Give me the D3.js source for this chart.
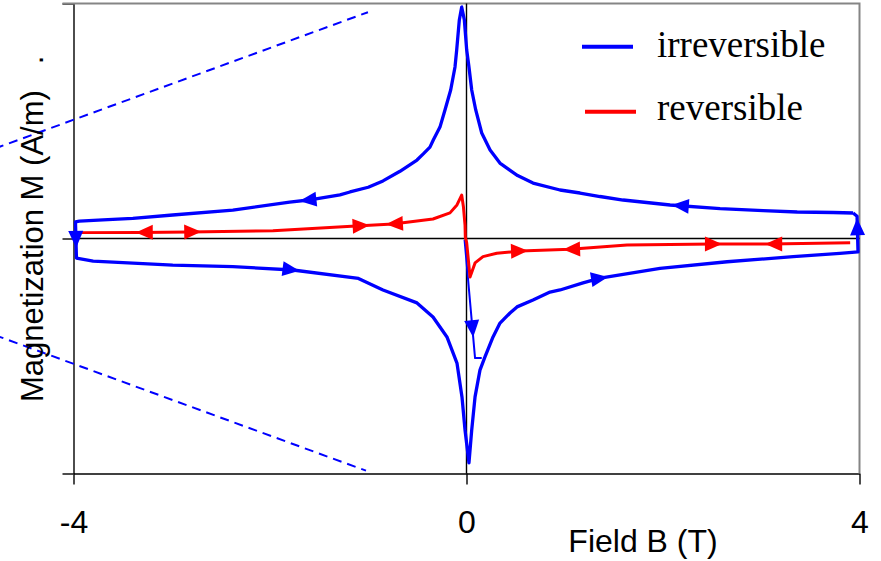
<!DOCTYPE html>
<html>
<head>
<meta charset="utf-8">
<script src="https://cdn.jsdelivr.net/npm/d3@7"></script>
<style>
  body { margin: 0; background: #fff; }
  svg { display: block; }
</style>
</head>
<body>
<svg id="chart" width="881" height="561"></svg>
<script>
// ---- data: field B (T) vs magnetization M (relative units, ±1 = full scale) ----
const fieldTicks = [-4, 0, 4];
const magTicks = [-1, 0, 1];

// irreversible loop, upper branch: swept from +4 T down to -4 T
const loopUpper = [
  [3.935, 0.1085], [3.732, 0.1106], [3.366, 0.1128], [3.019, 0.1183], [2.581, 0.1268],
  [2.072, 0.1426], [1.594, 0.1638], [1.359, 0.1787], [1.155, 0.1936], [0.952, 0.2064],
  [0.677, 0.236], [0.52, 0.268], [0.44, 0.291], [0.34, 0.321], [0.24, 0.377], [0.155, 0.449],
  [0.094, 0.547], [0.053, 0.632], [0.025, 0.730], [0.002, 0.802], [-0.022, 0.930],
  [-0.049, 0.985], [-0.073, 0.930], [-0.10, 0.802], [-0.117, 0.730], [-0.161, 0.632],
  [-0.219, 0.547], [-0.27, 0.474], [-0.338, 0.419], [-0.372, 0.389], [-0.44, 0.36],
  [-0.504, 0.334], [-0.677, 0.286], [-0.85, 0.245], [-1.0, 0.218], [-1.186, 0.198],
  [-1.288, 0.186], [-1.563, 0.166], [-1.80, 0.155], [-2.378, 0.121], [-2.99, 0.100],
  [-3.396, 0.086], [-3.70, 0.079], [-3.94, 0.074], [-3.98, 0.071]
];

// irreversible loop, lower branch: swept from -4 T back up to +4 T
const loopLower = [
  [-3.97, -0.083], [-3.80, -0.096], [-2.99, -0.113], [-2.378, -0.120], [-1.767, -0.134],
  [-1.10, -0.170], [-0.85, -0.219], [-0.504, -0.274], [-0.341, -0.334], [-0.199, -0.419],
  [-0.097, -0.530], [-0.046, -0.674], [-0.015, -0.815], [0.025, -0.955], [0.053, -0.815],
  [0.087, -0.674], [0.137, -0.560], [0.188, -0.504], [0.27, -0.419], [0.341, -0.360],
  [0.443, -0.317], [0.514, -0.291], [0.677, -0.262], [0.85, -0.228], [0.952, -0.219],
  [1.186, -0.189], [1.36, -0.169], [1.97, -0.127], [2.653, -0.099], [3.325, -0.077],
  [3.80, -0.063], [3.985, -0.057], [3.975, 0.095]
];

// first sweep from the demagnetised state
const initialCurve = [[-0.02, -0.005], [0.087, -0.509], [0.155, -0.509]];

// reversible part, ordered by increasing field
const reversibleCurve = [
  [-3.925, 0.025], [-3.325, 0.026], [-2.816, 0.028], [-1.97, 0.033], [-1.125, 0.053],
  [-0.748, 0.062], [-0.341, 0.083], [-0.168, 0.109], [-0.097, 0.143], [-0.049, 0.185],
  [-0.031, 0.134], [-0.015, 0.057], [-0.012, 0.006], [0.002, -0.019], [0.036, -0.164],
  [0.087, -0.104], [0.168, -0.077], [0.308, -0.063], [0.545, -0.053], [1.054, -0.046],
  [1.634, -0.028], [2.51, -0.023], [3.09, -0.023], [3.905, -0.018]
];

// dashed guide lines
const guideUpper = [[-4.8, 0.383], [-1.003, 0.963]];
const guideLower = [[-4.8, -0.411], [-1.023, -0.988]];

// sweep-direction arrows: position along one coordinate, travel direction
const loopArrows = [
  { axis: "B", value: 2.09, dir: -1 },
  { axis: "B", value: -1.70, dir: -1 },
  { axis: "M", value: -0.04, dir: -1 },
  { axis: "B", value: -1.70, dir: 1 },
  { axis: "B", value: 1.44, dir: 1 },
  { axis: "M", value: 0.086, dir: 1 }
];
const initialArrows = [{ axis: "M", value: -0.42, dir: -1 }];
const reversibleArrows = [
  { axis: "B", value: -3.366, dir: -1 },
  { axis: "B", value: -2.70, dir: 1 },
  { axis: "B", value: -0.986, dir: 1 },
  { axis: "B", value: -0.82, dir: -1 },
  { axis: "B", value: 0.626, dir: 1 },
  { axis: "B", value: 0.983, dir: -1 },
  { axis: "B", value: 2.60, dir: 1 },
  { axis: "B", value: 3.04, dir: -1 }
];

const seriesNames = ["irreversible", "reversible"];
const seriesColors = ["#0000ff", "#ff0000"];

// ---- layout ----
const svg = d3.select("#chart");
const x = d3.scaleLinear().domain([-4, 4]).range([73.5, 859.5]);
const y = d3.scaleLinear().domain([-1, 1]).range([473.5, 3.5]);
const sans = "'Liberation Sans', Arial, sans-serif";
const serif = "'Liberation Serif', 'Times New Roman', serif";

const line = d3.line().x(d => x(d[0])).y(d => y(d[1]));

// axes
const gy = svg.append("g")
  .attr("transform", `translate(${x(-4)},0)`)
  .call(d3.axisLeft(y).tickValues(magTicks).tickSize(11).tickSizeOuter(0).tickFormat(""));
const gx = svg.append("g")
  .attr("transform", `translate(0,${y(-1)})`)
  .call(d3.axisBottom(x).tickValues(fieldTicks).tickSize(11).tickSizeOuter(0)
        .tickPadding(26).tickFormat(d => String(d)));
[gx, gy].forEach(g => {
  g.selectAll("path.domain, line").attr("stroke", "#000").attr("stroke-width", 1.4);
});
gx.selectAll("text").attr("font-family", sans).attr("font-size", 32).attr("fill", "#000");

// plot frame (top/right) in grey
svg.append("path")
  .attr("d", `M${x(-4) - 11},${y(1)}H${x(4)}V${y(-1)}`)
  .attr("fill", "none").attr("stroke", "#858585").attr("stroke-width", 2);

// zero lines
svg.append("line").attr("x1", x(0)).attr("x2", x(0)).attr("y1", y(1)).attr("y2", y(-1))
  .attr("stroke", "#000").attr("stroke-width", 1.4);
svg.append("line").attr("x1", x(-4)).attr("x2", x(4)).attr("y1", y(0)).attr("y2", y(0))
  .attr("stroke", "#000").attr("stroke-width", 1.4);

// dashed guides
[guideUpper, guideLower].forEach(g => {
  svg.append("path").attr("d", line(g)).attr("fill", "none")
    .attr("stroke", seriesColors[0]).attr("stroke-width", 2).attr("stroke-dasharray", "9,6");
});

// curves
const loopPath = loopUpper.concat(loopLower, [loopUpper[0]]);
svg.append("path").attr("d", line(loopPath)).attr("fill", "none")
  .attr("stroke", seriesColors[0]).attr("stroke-width", 3.3).attr("stroke-linejoin", "round");
svg.append("path").attr("d", line(initialCurve)).attr("fill", "none")
  .attr("stroke", seriesColors[0]).attr("stroke-width", 2).attr("stroke-linejoin", "round");
svg.append("path").attr("d", line(reversibleCurve)).attr("fill", "none")
  .attr("stroke", seriesColors[1]).attr("stroke-width", 3).attr("stroke-linejoin", "round");

// find where an arrow sits on a path and which way the path runs there
function locate(points, axis, value, dir) {
  const k = axis === "B" ? 0 : 1;
  for (let i = 0; i < points.length - 1; i++) {
    const a = points[i], b = points[i + 1];
    const va = a[k], vb = b[k];
    if (Math.sign(vb - va) !== dir) continue;
    if ((value - va) * (value - vb) > 0) continue;
    const t = (value - va) / (vb - va);
    const px = x(a[0] + t * (b[0] - a[0]));
    const py = y(a[1] + t * (b[1] - a[1]));
    const ang = Math.atan2(y(b[1]) - y(a[1]), x(b[0]) - x(a[0])) * 180 / Math.PI;
    return { px, py, ang };
  }
  return null;
}

function drawArrows(points, arrows, color, reversible) {
  arrows.forEach(a => {
    const pts = reversible && a.dir < 0 ? points.slice().reverse() : points;
    const p = locate(pts, a.axis, a.value, a.dir);
    if (!p) return;
    svg.append("path")
      .attr("d", "M0,0L-17,-7.5L-17,7.5Z")
      .attr("transform", `translate(${p.px},${p.py}) rotate(${p.ang})`)
      .attr("fill", color);
  });
}
drawArrows(loopPath, loopArrows, seriesColors[0], false);
drawArrows(initialCurve, initialArrows, seriesColors[0], false);
drawArrows(reversibleCurve, reversibleArrows, seriesColors[1], true);

// axis titles
svg.append("text")
  .attr("x", 643).attr("y", 551.5).attr("text-anchor", "middle")
  .attr("font-family", sans).attr("font-size", 32).attr("fill", "#000")
  .text("Field B (T)");
svg.append("text")
  .attr("transform", "translate(43,402) rotate(-90)")
  .attr("font-family", sans).attr("font-size", 31).attr("fill", "#000")
  .style("white-space", "pre")
  .text("Magnetization M (A/m)   .");

// legend
const legend = svg.append("g");
seriesNames.forEach((name, i) => {
  const ly = [46.7, 111.7][i];
  const lx = [582, 585][i];
  legend.append("line").attr("x1", lx).attr("x2", lx + 51).attr("y1", ly).attr("y2", ly)
    .attr("stroke", seriesColors[i]).attr("stroke-width", 4);
  legend.append("text").attr("x", 657).attr("y", ly + 10 - i * 1.7)
    .attr("font-family", serif).attr("font-size", 37).attr("fill", "#000")
    .text(name);
});
</script>
</body>
</html>
